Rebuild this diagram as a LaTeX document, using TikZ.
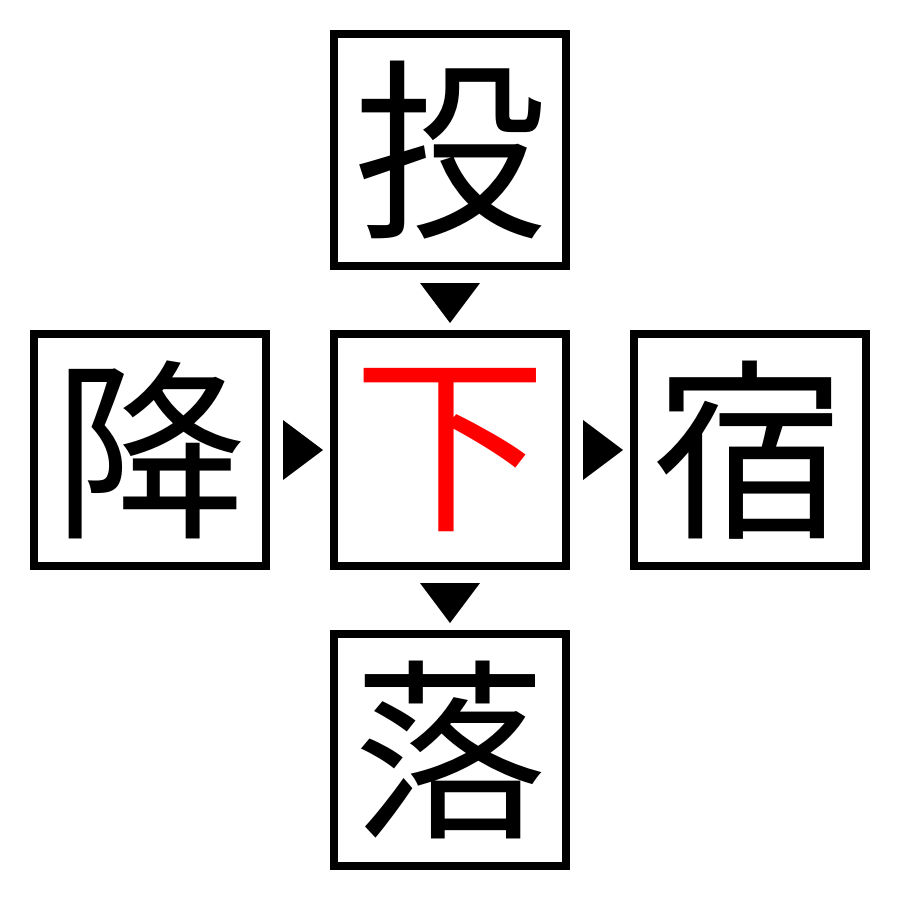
\documentclass[tikz,border=0pt]{standalone}
\usepackage{fontspec}
\newfontfamily\cjk{Noto Sans CJK JP}
\usetikzlibrary{calc}
\begin{document}
\begin{tikzpicture}[x=0.01cm,y=-0.01cm,
  box/.style={draw,line width=0.08cm,minimum size=2.32cm,inner sep=0pt,font=\cjk\fontsize{55}{55}\selectfont}]
\useasboundingbox (0,0) rectangle (900,900);
\node[box] (t) at (450,150) {投};
\node[box] (l) at (150,450) {降};
\node[box,text=red] (c) at (450,450) {下};
\node[box] (r) at (750,450) {宿};
\node[box] (b) at (450,750) {落};
\fill (420,283) -- (480,283) -- (450,323) -- cycle;
\fill (420,583) -- (480,583) -- (450,623) -- cycle;
\fill (283,420) -- (283,480) -- (323,450) -- cycle;
\fill (583,420) -- (583,480) -- (623,450) -- cycle;
\end{tikzpicture}
\end{document}
